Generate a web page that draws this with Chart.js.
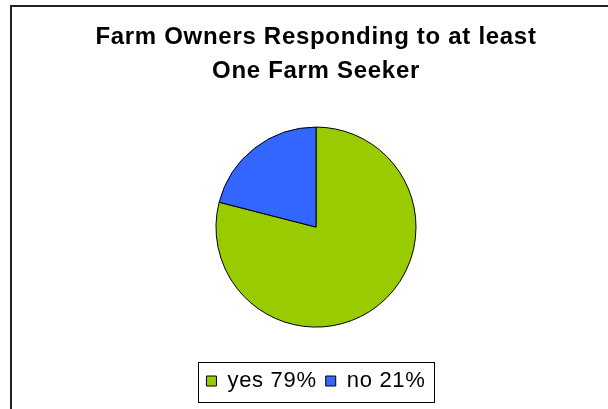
<!DOCTYPE html>
<html>
<head>
<meta charset="utf-8">
<script src="https://cdn.jsdelivr.net/npm/chart.js@4/dist/chart.umd.min.js"></script>
<style>
  html, body { margin: 0; padding: 0; background: #ffffff; }
  #c { display: block; }
</style>
</head>
<body>
<canvas id="c" width="608" height="409"></canvas>
<script>
const titleLines = ['Farm Owners Responding to at least', 'One Farm Seeker'];
const categories = ['yes', 'no'];
const values = [79, 21];
const sliceColors = ['#99CC00', '#3366FF'];

const framePlugin = {
  id: 'frame',
  beforeLayout(chart) {
    chart.ctx.letterSpacing = '0.7px';
  },
  beforeDraw(chart) {
    const ctx = chart.ctx;
    ctx.letterSpacing = '0.7px';
    ctx.save();
    ctx.fillStyle = '#ffffff';
    ctx.fillRect(0, 0, chart.width, chart.height);
    ctx.fillStyle = '#222222';
    ctx.fillRect(10, 5, chart.width - 10, 2);
    ctx.fillRect(10, 5, 2, chart.height - 5);
    ctx.restore();
  },
  afterDraw(chart) {
    const lg = chart.legend;
    if (!lg || !lg.legendHitBoxes || !lg.legendHitBoxes.length) return;
    const boxes = lg.legendHitBoxes;
    let l = Infinity, r = -Infinity, t = Infinity, b = -Infinity;
    boxes.forEach(h => {
      l = Math.min(l, h.left); r = Math.max(r, h.left + h.width);
      t = Math.min(t, h.top); b = Math.max(b, h.top + h.height);
    });
    const ctx = chart.ctx;
    ctx.save();
    ctx.strokeStyle = '#000000';
    ctx.lineWidth = 1;
    ctx.strokeRect(Math.round(l - 8) + 0.5, Math.round(t - 8) + 0.5, Math.round(r - l + 17), Math.round(b - t + 18));
    ctx.restore();
  }
};

new Chart(document.getElementById('c'), {
  type: 'pie',
  data: {
    labels: categories,
    datasets: [{
      data: values,
      backgroundColor: sliceColors,
      borderColor: '#000000',
      borderWidth: 1,
      radius: 100
    }]
  },
  options: {
    responsive: false,
    animation: false,
    layout: { padding: { left: 24, right: 0, top: 0, bottom: 7 } },
    plugins: {
      title: {
        display: true,
        text: titleLines,
        color: '#000000',
        font: { family: '"Liberation Sans", Arial, sans-serif', size: 24, weight: 'bold', lineHeight: 1.42 },
        padding: { top: 20, bottom: 5 }
      },
      legend: {
        display: true,
        position: 'bottom',
        labels: {
          color: '#000000',
          font: { family: '"Liberation Sans", Arial, sans-serif', size: 22 },
          boxWidth: 10,
          boxHeight: 10,
          padding: 9,
          generateLabels(chart) {
            const base = Chart.overrides.pie.plugins.legend.labels.generateLabels(chart);
            return base.map((item, i) => Object.assign(item, {
              text: categories[i] + ' ' + values[i] + '%',
              strokeStyle: '#000000',
              lineWidth: 1
            }));
          }
        }
      },
      tooltip: { enabled: false }
    }
  },
  plugins: [framePlugin]
});
</script>
</body>
</html>
